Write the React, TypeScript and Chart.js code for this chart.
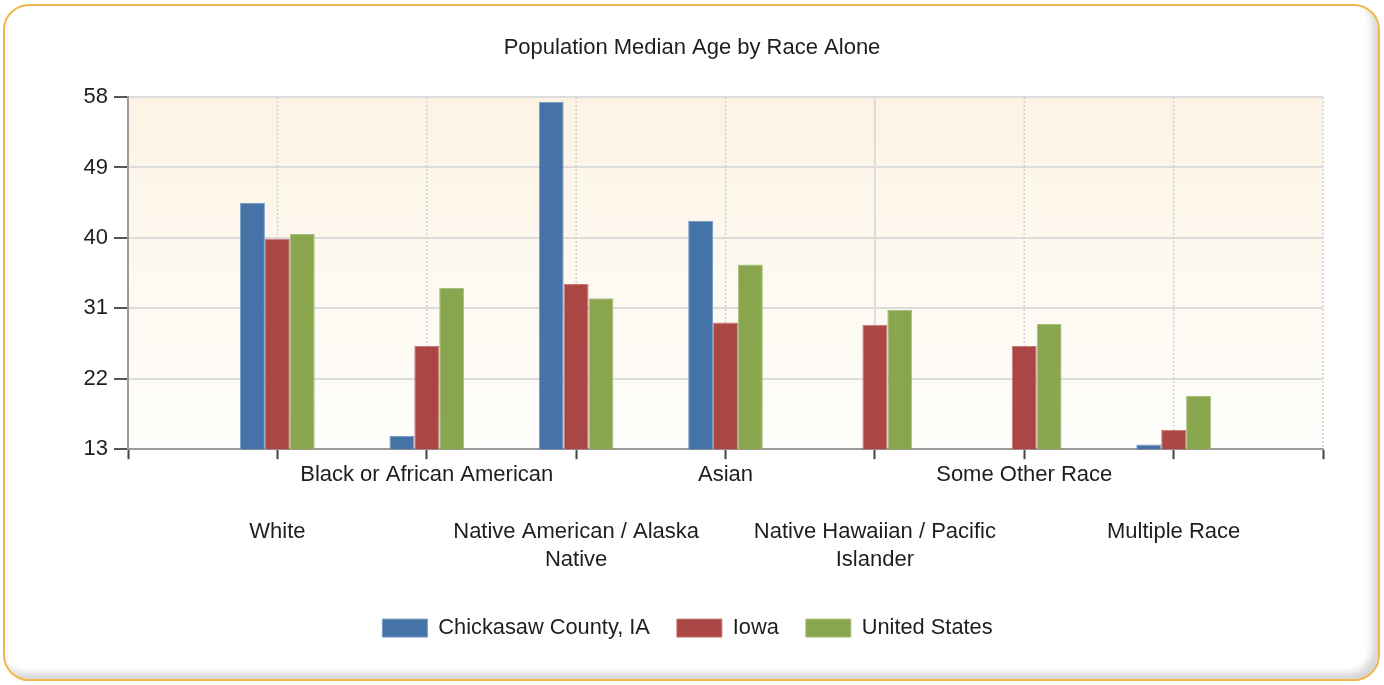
import React, { useEffect, useRef } from "react";
import { Chart, registerables } from "chart.js";

Chart.register(...registerables);

const TITLE = "Population Median Age by Race Alone";
const CATEGORIES = [
  "White",
  "Black or African American",
  "Native American / Alaska Native",
  "Asian",
  "Native Hawaiian / Pacific Islander",
  "Some Other Race",
  "Multiple Race",
];
const CATEGORY_LINES = [
  ["White"],
  ["Black or African American"],
  ["Native American / Alaska", "Native"],
  ["Asian"],
  ["Native Hawaiian / Pacific", "Islander"],
  ["Some Other Race"],
  ["Multiple Race"],
];
const CATEGORY_ROW = [2, 1, 2, 1, 2, 1, 2];
const SERIES_NAMES = ["Chickasaw County, IA", "Iowa", "United States"];
const CHICKASAW = [44.5, 14.7, 57.4, 42.2, null, null, 13.6];
const IOWA = [39.9, 26.2, 34.1, 29.2, 28.9, 26.2, 15.5];
const UNITED_STATES = [40.5, 33.6, 32.3, 36.6, 30.8, 29.0, 19.8];
const Y_TICKS = [13, 22, 31, 40, 49, 58];

const COLORS = ["#4572A7", "#AA4643", "#89A54E"];
const BORDERS = ["#7b9cc6", "#c47a78", "#a9c17e"];
const FONT = "'Liberation Sans', Arial, sans-serif";
const TEXT = "#1e1e1e";
const SOLID_GRID_INDEX = 5;

const bgPlugin = {
  id: "plotBg",
  beforeDraw(chart: any) {
    const { ctx, chartArea } = chart;
    if (!chartArea) return;
    const g = ctx.createLinearGradient(0, chartArea.top, 0, chartArea.bottom);
    g.addColorStop(0, "#fcf3e4");
    g.addColorStop(1, "#fffefc");
    ctx.save();
    ctx.fillStyle = g;
    ctx.fillRect(chartArea.left, chartArea.top, chartArea.right - chartArea.left, chartArea.bottom - chartArea.top);
    ctx.restore();
  },
};

const vGridPlugin = {
  id: "vGrid",
  beforeDatasetsDraw(chart: any) {
    const { ctx, chartArea } = chart;
    const xs = chart.scales.x;
    const n = xs.ticks.length;
    ctx.save();
    for (let i = 1; i < n; i++) {
      const x = xs.getPixelForTick(i);
      const solid = i === SOLID_GRID_INDEX;
      ctx.beginPath();
      ctx.lineWidth = solid ? 2 : 1.5;
      ctx.strokeStyle = solid ? "#dcdcdc" : "#d0d0d0";
      ctx.setLineDash(solid ? [] : [2, 2]);
      ctx.moveTo(x, chartArea.top);
      ctx.lineTo(x, chartArea.bottom);
      ctx.stroke();
    }
    ctx.restore();
  },
};

// center the title on the whole canvas (legend stays centred on its own box)
const titleCenterPlugin = {
  id: "titleCenter",
  afterLayout(chart: any) {
    const t = chart.titleBlock;
    if (!t) return;
    const shift = chart.width / 2 - (t.left + t.right) / 2;
    t.left += shift;
    t.right += shift;
  },
};

export default function App() {
  const ref = useRef<HTMLCanvasElement | null>(null);

  useEffect(() => {
    if (!ref.current) return;
    const labels = ["", ...CATEGORIES, ""];
    const pad = (arr: (number | null)[]) => [null, ...arr, null];
    const series = [CHICKASAW, IOWA, UNITED_STATES];
    const chart = new Chart(ref.current, {
      type: "bar",
      data: {
        labels,
        datasets: series.map((s, i) => ({
          label: SERIES_NAMES[i],
          data: pad(s),
          backgroundColor: COLORS[i],
          borderColor: BORDERS[i],
          borderWidth: 1,
          categoryPercentage: 0.5,
          barPercentage: 1,
        })),
      },
      options: {
        animation: false,
        responsive: false,
        devicePixelRatio: 1,
        layout: { padding: { top: 20, left: 52, right: 61, bottom: 36 } },
        plugins: {
          title: {
            display: true,
            text: TITLE,
            color: TEXT,
            font: { family: FONT, size: 22, weight: "normal" },
            padding: { top: 15, bottom: 35.6 },
          },
          legend: {
            position: "bottom",
            labels: {
              boxWidth: 45,
              boxHeight: 18,
              padding: 27,
              color: TEXT,
              font: { family: FONT, size: 21.8 },
            },
          },
          tooltip: { enabled: false },
        },
        scales: {
          x: {
            offset: false,
            grid: {
              offset: false,
              drawOnChartArea: false,
              drawTicks: true,
              tickLength: 10,
              tickWidth: 2,
              tickColor: "#444444",
            },
            border: { color: "#9a9a9a", width: 2 },
            ticks: {
              autoSkip: false,
              maxRotation: 0,
              minRotation: 0,
              padding: 1,
              color: TEXT,
              font: { family: FONT, size: 22, lineHeight: "28.5px" },
              callback: (_v: any, i: number) => {
                if (i === 0 || i > CATEGORIES.length) return "";
                const lines = CATEGORY_LINES[i - 1];
                return CATEGORY_ROW[i - 1] === 2 ? ["", "", ...lines] : lines;
              },
            },
            afterFit: (scale: any) => {
              scale.height = 141;
            },
          },
          y: {
            min: Y_TICKS[0],
            max: Y_TICKS[Y_TICKS.length - 1],
            afterBuildTicks: (scale: any) => {
              scale.ticks = Y_TICKS.map((v) => ({ value: v }));
            },
            grid: {
              color: "#dcdcdc",
              lineWidth: 2,
              tickLength: 14,
              tickWidth: 2,
              tickColor: "#555555",
            },
            border: { color: "#9a9a9a", width: 2 },
            ticks: {
              padding: 6,
              color: TEXT,
              font: { family: FONT, size: 22 },
            },
            afterFit: (scale: any) => {
              scale.width = 76;
            },
          },
        },
      },
      plugins: [bgPlugin, vGridPlugin, titleCenterPlugin],
    } as any);
    return () => chart.destroy();
  }, []);

  return (
    <div style={{ position: "absolute", left: 0, top: 0, width: 1384, height: 685, background: "#ffffff" }}>
      <div
        style={{
          position: "absolute",
          left: 3,
          top: 4,
          width: 1377,
          height: 677,
          boxSizing: "border-box",
          border: "2px solid #F0B64A",
          borderRadius: 26,
          background: "#ffffff",
          boxShadow: "inset -6px -6px 7px rgba(0,0,0,0.16)",
        }}
      />
      <canvas
        ref={ref}
        width={1384}
        height={685}
        style={{ position: "absolute", left: 0, top: 0, width: 1384, height: 685 }}
      />
    </div>
  );
}
